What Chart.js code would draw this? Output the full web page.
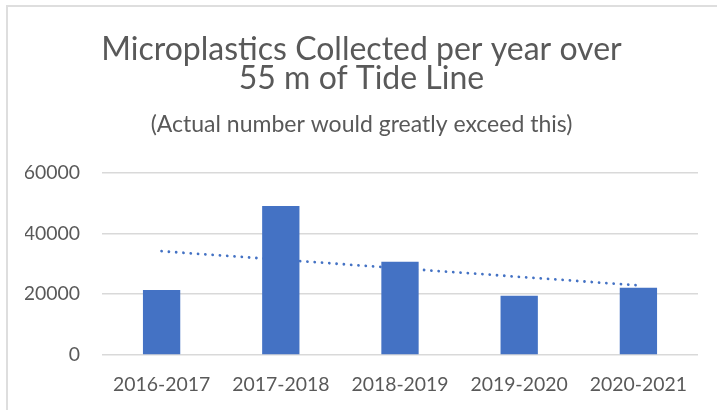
<!DOCTYPE html>
<html>
<head>
<meta charset="utf-8">
<script src="https://cdn.jsdelivr.net/npm/chart.js@4.4.1/dist/chart.umd.min.js"></script>
<style>
  html, body { margin: 0; padding: 0; background: #ffffff; overflow: hidden; }
  #wrap { position: relative; width: 717px; height: 410px; overflow: hidden; }
  #frame { position: absolute; left: 6px; top: 5px; width: 900px; height: 700px;
           border: 2px solid #dedede; box-sizing: border-box; }
  canvas { position: absolute; left: 0; top: 0; }
</style>
</head>
<body>
<div id="wrap">
  <div id="frame"></div>
  <canvas id="chart" width="717" height="410"></canvas>
</div>
<script>
// Seasons along the tide line survey
const seasons = ['2016-2017', '2017-2018', '2018-2019', '2019-2020', '2020-2021'];
// Microplastic pieces collected each season
const collected = [21400, 49000, 30700, 19500, 22100];
// Value axis ticks
const yTicks = [0, 20000, 40000, 60000];

const titleLines = ['Microplastics Collected per year over', '55 m of Tide Line'];
const subtitleText = '(Actual number would greatly exceed this)';

// Least-squares linear trend through the seasonal totals
function linearTrend(values) {
  const n = values.length;
  const xs = values.map((_, i) => i);
  const mx = xs.reduce((a, b) => a + b, 0) / n;
  const my = values.reduce((a, b) => a + b, 0) / n;
  let num = 0, den = 0;
  xs.forEach((x, i) => { num += (x - mx) * (values[i] - my); den += (x - mx) * (x - mx); });
  const slope = num / den;
  return xs.map(x => my + slope * (x - mx));
}
const trend = linearTrend(collected);

const textGrey = '#595959';
const barBlue = '#4472C4';
const font = 'Lato, "Liberation Sans", sans-serif';

new Chart(document.getElementById('chart'), {
  data: {
    labels: seasons,
    datasets: [
      {
        type: 'bar',
        label: 'Collected',
        data: collected,
        backgroundColor: barBlue,
        borderWidth: 0,
        barPercentage: 0.313,
        categoryPercentage: 1,
        order: 1
      },
      {
        type: 'line',
        label: 'Linear trend',
        data: trend,
        borderColor: barBlue,
        borderWidth: 2.8,
        borderDash: [0.01, 7.3],
        borderCapStyle: 'round',
        pointRadius: 0,
        fill: false,
        tension: 0,
        order: 2
      }
    ]
  },
  options: {
    responsive: false,
    animation: false,
    devicePixelRatio: 1,
    layout: { padding: { top: 10, left: 25, right: 19, bottom: 13.6 } },
    plugins: {
      legend: { display: false },
      tooltip: { enabled: false },
      title: {
        display: true,
        text: titleLines,
        color: textGrey,
        font: { family: font, size: 32, weight: 'normal', lineHeight: 29.5 / 32 },
        padding: { top: 24.5, bottom: 0 }
      },
      subtitle: {
        display: true,
        text: subtitleText,
        color: textGrey,
        font: { family: font, size: 23, weight: 'normal', lineHeight: 27 / 23 },
        padding: { top: 18, bottom: 34.2 }
      }
    },
    scales: {
      x: {
        grid: { display: false, drawTicks: false },
        border: { display: false },
        afterFit: (scale) => { scale.height = 41.4; },
        ticks: { color: textGrey, font: { family: font, size: 19.4 }, padding: 18.5, maxRotation: 0 }
      },
      y: {
        min: 0,
        max: 60000,
        afterBuildTicks: (scale) => { scale.ticks = yTicks.map(v => ({ value: v })); },
        afterFit: (scale) => { scale.width = 77; },
        grid: { color: '#d9d9d9', lineWidth: 1.5, drawTicks: false },
        border: { display: false },
        ticks: {
          color: textGrey,
          font: { family: font, size: 19.4 },
          padding: 22,
          callback: (value) => String(value)
        }
      }
    }
  }
});
</script>
</body>
</html>
